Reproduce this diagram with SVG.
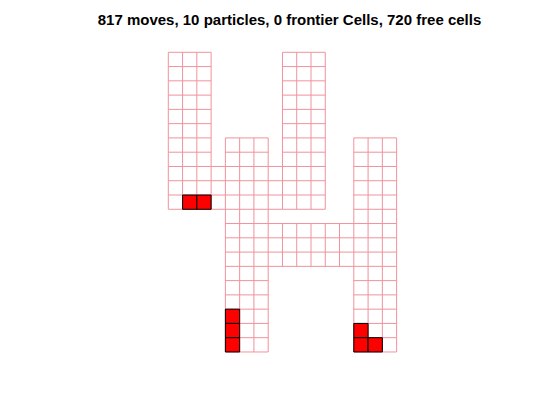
<svg xmlns="http://www.w3.org/2000/svg" width="560" height="420" viewBox="0 0 560 420">
<style>
.title{font-family:"Liberation Sans",Arial,sans-serif;font-weight:bold;font-size:15px;fill:#000}
.grid{fill:none;stroke:#f0929c;stroke-width:1;vector-effect:non-scaling-stroke}
.p{fill:#ff0000;stroke:#000;stroke-width:1;vector-effect:non-scaling-stroke}
</style>
<rect width="560" height="420" fill="#fff"/>
<text class="title" x="289.5" y="25" text-anchor="middle">817 moves, 10 particles, 0 frontier Cells, 720 free cells</text>
<g transform="translate(168.3,52.3) scale(14.27)">
<path class="grid" d="M0 0H3M0 1H3M0 2H3M0 3H3M0 4H3M0 5H3M0 6H3M0 7H3M0 8H3M0 9H3M0 10H3M0 11H3M0 0V11M1 0V11M2 0V11M3 0V11
M8 0H11M8 1H11M8 2H11M8 3H11M8 4H11M8 5H11M8 6H11M8 7H11M8 8H11M8 9H11M8 10H11M8 11H11M8 0V11M9 0V11M10 0V11M11 0V11
M3 8H4M3 9H4M3 10H4M3 11H4M7 8H8M7 9H8M7 10H8M7 11H8
M4 6H7M4 7H7M4 8H7M4 9H7M4 10H7M4 11H7M4 12H7M4 13H7M4 14H7M4 15H7M4 16H7M4 17H7M4 18H7M4 19H7M4 20H7M4 21H7M4 6V21M5 6V21M6 6V21M7 6V21
M13 6H16M13 7H16M13 8H16M13 9H16M13 10H16M13 11H16M13 12H16M13 13H16M13 14H16M13 15H16M13 16H16M13 17H16M13 18H16M13 19H16M13 20H16M13 21H16M13 6V21M14 6V21M15 6V21M16 6V21
M7 12H13M7 13H13M7 14H13M7 15H13M8 12V15M9 12V15M10 12V15M11 12V15M12 12V15"/>
<g id="particles">
<rect class="p" x="1" y="10" width="1" height="1"/>
<rect class="p" x="2" y="10" width="1" height="1"/>
<rect class="p" x="4" y="18" width="1" height="1"/>
<rect class="p" x="4" y="19" width="1" height="1"/>
<rect class="p" x="4" y="20" width="1" height="1"/>
<rect class="p" x="13" y="19" width="1" height="1"/>
<rect class="p" x="13" y="20" width="1" height="1"/>
<rect class="p" x="14" y="20" width="1" height="1"/>
</g>
</g>
</svg>
